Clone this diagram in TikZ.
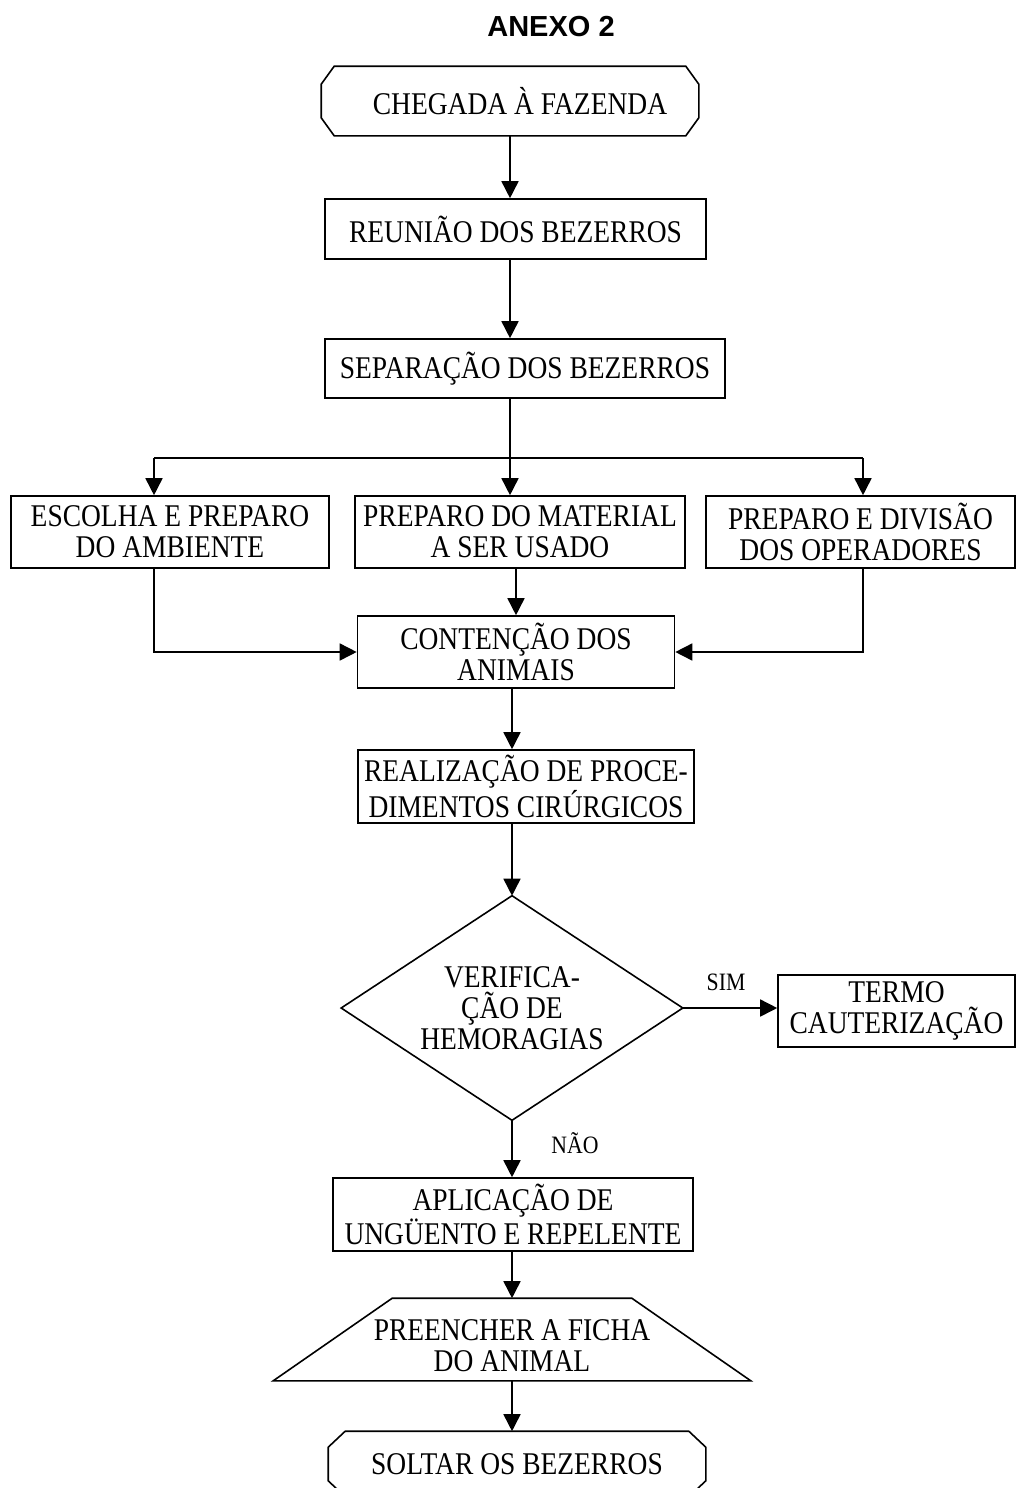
\documentclass[tikz,border=0pt]{standalone}
\usepackage{fontspec}
\setmainfont{Liberation Serif}[FakeStretch = 0.87]
\newfontfamily\titleFont{Liberation Sans}
\usetikzlibrary{arrows.meta}
\newcommand{\px}{0.5pt}
\tikzstyle{flowchart} = [x = 0.5pt, y = -0.5pt, line width = 0.8pt]
\tikzstyle{textStyle} = [inner sep = 0, align = center, font = \fontsize{15.8}{15.5}\selectfont]
\tikzstyle{boxStyle} = [textStyle, draw, rectangle]
\tikzstyle{outlineStyle} = [textStyle, rectangle]
\tikzstyle{arrowStyle} = [-{Triangle[length = 8.5pt, width = 8.5pt]}]
\tikzstyle{labelStyle} = [inner sep = 0, font = \fontsize{12.5}{14}\selectfont]
\newcommand{\flowBox}[5]{\node [boxStyle, minimum width = #3*\px, minimum height = #4*\px] (#1) at (#2) {#5};}
% terminal: rectangle with cut corners
\newcommand{\terminal}[7]{
  \node [outlineStyle, minimum width = #3*\px, minimum height = #4*\px] (#1) at (#2) {#7};
  \draw ([xshift = #5*\px]#1.north west) -- ([xshift = -#5*\px]#1.north east)
    -- ([yshift = -#6*\px]#1.north east) -- ([yshift = #6*\px]#1.south east)
    -- ([xshift = -#5*\px]#1.south east) -- ([xshift = #5*\px]#1.south west)
    -- ([yshift = #6*\px]#1.south west) -- ([yshift = -#6*\px]#1.north west) -- cycle;
}
\newcommand{\decision}[5]{
  \node [outlineStyle, minimum width = #3*\px, minimum height = #4*\px] (#1) at (#2) {#5};
  \draw (#1.north) -- (#1.east) -- (#1.south) -- (#1.west) -- cycle;
}
% text sits a little below the middle of the trapezium
\newcommand{\manualInput}[6]{
  \node [outlineStyle, minimum width = #3*\px, minimum height = #4*\px] (#1) at (#2) {};
  \node [textStyle] (#1Text) at ([yshift = -6*\px]#1.center) {#6};
  \draw (#1.south west) -- (#1.south east) -- ([xshift = -#5*\px]#1.north east)
    -- ([xshift = #5*\px]#1.north west) -- cycle;
}

\begin{document}
\begin{tikzpicture}[flowchart]
        \useasboundingbox (0,0) rectangle (1016,1488);
        \node [inner sep = 0, font = \titleFont\bfseries\fontsize{14.5}{17}\selectfont] (title) at (551,27) {ANEXO 2};

        \terminal{chegada}{510,101}{376}{68}{13}{18}{\hspace*{10pt}CHEGADA À FAZENDA}
        \flowBox{reuniao}{515.5,229}{381}{60}{REUNIÃO DOS BEZERROS}
        \flowBox{separacao}{525,368.5}{400}{59}{SEPARAÇÃO DOS BEZERROS}
        \flowBox{ambiente}{170,532}{318}{72}{ESCOLHA E PREPARO\\DO AMBIENTE}
        \flowBox{material}{520,532}{330}{72}{PREPARO DO MATERIAL\\A SER USADO}
        \flowBox{operadores}{860.5,532}{309}{72}{PREPARO E DIVISÃO\\DOS OPERADORES}
        \flowBox{contencao}{516,652}{317}{72}{CONTENÇÃO DOS\\ANIMAIS}
        \flowBox{realizacao}{526,786.5}{336}{73}{REALIZAÇÃO DE PROCE-\\DIMENTOS CIRÚRGICOS}
        \decision{verificacao}{512,1008}{340}{223}{VERIFICA-\\ÇÃO DE\\HEMORAGIAS}
        \flowBox{termo}{896.5,1011}{237}{72}{TERMO\\CAUTERIZAÇÃO}
        \flowBox{aplicacao}{513,1214.5}{360}{73}{APLICAÇÃO DE\\UNGÜENTO E REPELENTE}
        \manualInput{ficha}{512,1339.5}{476}{81}{119}{PREENCHER A FICHA\\DO ANIMAL}
        \terminal{soltar}{517,1464}{376}{64}{17}{16}{SOLTAR OS BEZERROS}

        \node [labelStyle] (sim) at (726,982) {SIM};
        \node [labelStyle] (nao) at (575,1143) {NÃO};

        \coordinate (forkLeft) at (154,458);
        \coordinate (forkRight) at (863,458);

        \draw [arrowStyle] (chegada.south) -- (chegada |- reuniao.north);
        \draw [arrowStyle] (chegada |- reuniao.south) -- (chegada |- separacao.north);
        \draw (chegada |- separacao.south) -- (chegada |- forkLeft);
        \draw (forkLeft) -- (forkRight);
        \draw [arrowStyle] (forkLeft) -- (forkLeft |- ambiente.north);
        \draw [arrowStyle] (chegada |- forkLeft) -- (chegada |- material.north);
        \draw [arrowStyle] (forkRight) -- (forkRight |- operadores.north);
        \draw [arrowStyle] (forkLeft |- ambiente.south) -- (forkLeft |- contencao.west) -- (contencao.west);
        \draw [arrowStyle] (forkRight |- operadores.south) -- (forkRight |- contencao.east) -- (contencao.east);
        \draw [arrowStyle] (contencao.north |- material.south) -- (contencao.north);
        \draw [arrowStyle] (verificacao |- contencao.south) -- (verificacao |- realizacao.north);
        \draw [arrowStyle] (verificacao |- realizacao.south) -- (verificacao.north);
        \draw [arrowStyle] (verificacao.east) -- (verificacao.east -| termo.west);
        \draw [arrowStyle] (verificacao.south) -- (verificacao |- aplicacao.north);
        \draw [arrowStyle] (verificacao |- aplicacao.south) -- (ficha.north);
        \draw [arrowStyle] (ficha.south) -- (ficha.south |- soltar.north);
      \end{tikzpicture}
\end{document}
